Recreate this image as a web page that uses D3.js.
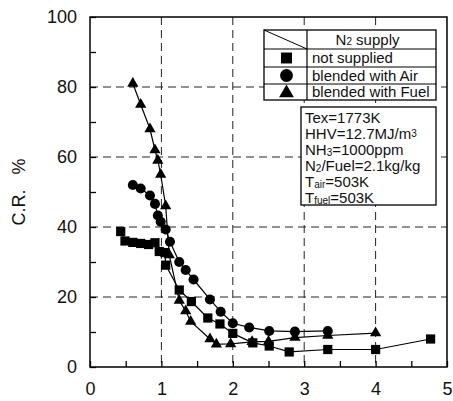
<!DOCTYPE html>
<html>
<head>
<meta charset="utf-8">
<script src="https://cdn.jsdelivr.net/npm/d3@7"></script>
<style>
  body { margin: 0; background: #fff; }
  .cr-chart { font-family: "Liberation Sans", Arial, sans-serif; }
</style>
</head>
<body>
<svg class="cr-chart"></svg>
<script>
// values: [x, C.R. %]
let notSupplied = [[0.43,38.7],[0.49,36],[0.6,35.6],[0.71,35.3],[0.82,35],[0.91,35.5],[0.97,33],[1.05,32.7],
  [1.06,29.1],[1.25,22],[1.42,18.7],[1.65,14],[1.82,12.3],[2.0,9.6],[2.28,6.9],[2.51,6],[2.79,4.3],[3.33,5],[4.0,5],[4.77,8]];
let blendedAir = [[0.6,52],[0.71,51],[0.84,49],[0.91,46.6],[0.95,43.3],[0.99,41.5],[1.06,39.3],[1.12,35.8],
  [1.25,30],[1.34,27.7],[1.45,25],[1.68,19.3],[1.83,15.8],[2.0,12.5],[2.23,11.3],[2.51,10.3],[2.87,10.1],[3.33,10.3]];
let blendedFuel = [[0.6,81],[0.71,75],[0.84,68],[0.91,62],[0.95,59],[0.99,55],[1.06,46],[1.11,32],[1.25,19],
  [1.34,16],[1.41,13],[1.68,8],[1.77,6.5],[1.97,6.6],[2.27,7.2],[2.5,7.3],[2.87,8.4],[3.33,9],[4.0,9.7]];

let seriesLabels = ['not supplied', 'blended with Air', 'blended with Fuel'];
let xTicks = [0, 1, 2, 3, 4, 5];
let yTicks = [0, 20, 40, 60, 80, 100];
// text pieces: [text, shift] where shift != 0 means small script
let infoLines = [
  [['Tex=1773K', 0]],
  [['HHV=12.7MJ/m', 0], ['3', -1]],
  [['NH', 0], ['3', 1], ['=1000ppm', 0]],
  [['N', 0], ['2', 1], ['/Fuel=2.1kg/kg', 0]],
  [['T', 0], ['air', 1], ['=503K', 0]],
  [['T', 0], ['fuel', 1], ['=503K', 0]]
];

let margin = {top: 17, right: 6, bottom: 34, left: 90},
  width = 453 - margin.left - margin.right,
  height = 401 - margin.top - margin.bottom;

let svg = d3.select('.cr-chart')
  .attr('width', 453)
  .attr('height', 401)
  .append('g')
  .attr('transform', 'translate(' + margin.left + ',' + margin.top + ')');

let x = d3.scaleLinear().domain([0, 5]).range([0, width]);
let y = d3.scaleLinear().domain([0, 100]).range([height, 0]);

// dashed grid
svg.append('g').selectAll('line')
  .data(xTicks.slice(1, -1))
  .enter().append('line')
  .attr('x1', d => x(d)).attr('x2', d => x(d))
  .attr('y1', 0).attr('y2', height)
  .attr('stroke', '#222').attr('stroke-width', 1).attr('stroke-dasharray', '8,5');
svg.append('g').selectAll('line')
  .data(yTicks.slice(1, -1))
  .enter().append('line')
  .attr('x1', 0).attr('x2', width)
  .attr('y1', d => y(d)).attr('y2', d => y(d))
  .attr('stroke', '#222').attr('stroke-width', 1).attr('stroke-dasharray', '8,5');

// axes with inward ticks
let yAxis = d3.axisLeft(y)
  .tickValues(d3.range(0, 101, 10))
  .tickSize(-6)
  .tickPadding(13)
  .tickFormat(d => yTicks.indexOf(d) > -1 ? d : '');
let xAxis = d3.axisBottom(x)
  .tickValues(d3.range(0, 5.01, 0.5))
  .tickSize(-6)
  .tickPadding(15)
  .tickFormat(d => xTicks.indexOf(d) > -1 ? d : '');

svg.append('g').call(yAxis);
svg.append('g').attr('transform', 'translate(0,' + height + ')').call(xAxis);
svg.selectAll('.tick line').attr('stroke', '#000').attr('stroke-width', 1.3);
svg.selectAll('.domain').remove();
svg.selectAll('.tick text')
  .attr('font-family', '"Liberation Sans", Arial, sans-serif')
  .attr('font-size', 18).attr('fill', '#111');

svg.append('rect')
  .attr('width', width).attr('height', height)
  .attr('fill', 'none').attr('stroke', '#000').attr('stroke-width', 1.5);

// y label
svg.append('text')
  .attr('transform', 'translate(' + (25 - margin.left) + ',' + (192 - margin.top) + ') rotate(-90)')
  .attr('text-anchor', 'middle')
  .attr('font-size', 18).attr('fill', '#111')
  .attr('xml:space', 'preserve')
  .text('C.R.   %');

// data lines and markers
let line = d3.line().x(d => x(d[0])).y(d => y(d[1]));
let allSeries = [
  {values: notSupplied, symbol: d3.symbolSquare, size: 85},
  {values: blendedAir, symbol: d3.symbolCircle, size: 80},
  {values: blendedFuel, symbol: d3.symbolTriangle, size: 55}
];

allSeries.forEach(function (s) {
  svg.append('path')
    .datum(s.values)
    .attr('d', line)
    .attr('fill', 'none')
    .attr('stroke', '#000')
    .attr('stroke-width', 1.2);
  svg.append('g').selectAll('path')
    .data(s.values)
    .enter().append('path')
    .attr('d', d3.symbol().type(s.symbol).size(s.size))
    .attr('transform', d => 'translate(' + x(d[0]) + ',' + y(d[1]) + ')')
    .attr('fill', '#000');
});

// legend table (page coordinates)
let root = d3.select('.cr-chart');
let lg = root.append('g').attr('transform', 'translate(264,30)');
let lgW = 172, colX = 43, rowY = [0, 19, 37, 54, 70];
lg.append('rect').attr('width', lgW).attr('height', rowY[4])
  .attr('fill', '#fff').attr('stroke', '#000').attr('stroke-width', 1.3);
lg.selectAll('.row-line')
  .data(rowY.slice(1, -1))
  .enter().append('line')
  .attr('x1', 0).attr('x2', lgW)
  .attr('y1', d => d).attr('y2', d => d)
  .attr('stroke', '#000').attr('stroke-width', 1.2);
lg.append('line').attr('x1', colX).attr('x2', colX).attr('y1', 0).attr('y2', rowY[4])
  .attr('stroke', '#000').attr('stroke-width', 1.2);
lg.append('line').attr('x1', 0).attr('y1', 0).attr('x2', colX).attr('y2', rowY[1])
  .attr('stroke', '#000').attr('stroke-width', 1);

let head = lg.append('text')
  .attr('x', (colX + lgW) / 2 - 4).attr('y', rowY[1] - 4)
  .attr('text-anchor', 'middle').attr('font-size', 15).attr('fill', '#111');
head.append('tspan').text('N');
head.append('tspan').attr('font-size', 10).text('2');
head.append('tspan').text(' supply');

let legendSizes = [120, 130, 95];
allSeries.forEach(function (s, i) {
  let cy = (rowY[i + 1] + rowY[i + 2]) / 2;
  lg.append('path')
    .attr('d', d3.symbol().type(s.symbol).size(legendSizes[i]))
    .attr('transform', 'translate(' + (colX / 2 + 1) + ',' + (cy + (i === 2 ? 1 : 0)) + ')')
    .attr('fill', '#000');
  lg.append('text')
    .attr('x', colX + 5).attr('y', cy + 5)
    .attr('font-size', 15).attr('fill', '#111')
    .text(seriesLabels[i]);
});

// condition box
let ib = root.append('g').attr('transform', 'translate(301,107)');
ib.append('rect').attr('width', 135).attr('height', 98)
  .attr('fill', '#fff').attr('stroke', '#000').attr('stroke-width', 1.3);
infoLines.forEach(function (parts, i) {
  let t = ib.append('text')
    .attr('x', 4).attr('y', 16 + i * 16)
    .attr('font-size', 15).attr('fill', '#111');
  let shift = 0;
  parts.forEach(function (p) {
    let sp = t.append('tspan').text(p[0]);
    let want = p[1] < 0 ? -2 : (p[1] > 0 ? 1 : 0);
    if (want !== shift) sp.attr('dy', want - shift);
    shift = want;
    if (p[1] !== 0) sp.attr('font-size', 10);
  });
});
</script>
</body>
</html>
